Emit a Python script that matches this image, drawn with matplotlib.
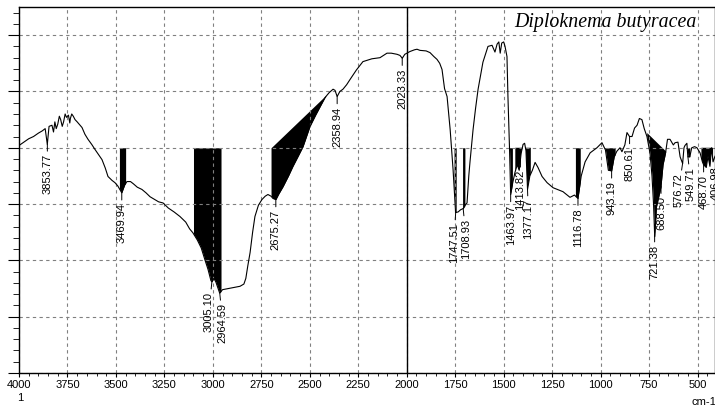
import numpy as np
import matplotlib.pyplot as plt
from matplotlib.ticker import MultipleLocator

# spectrum (wavenumber in cm-1, transmittance in arbitrary units)
wavenumber = [4000, 3975, 3950, 3925, 3900, 3880, 3865, 3854, 3845, 3830, 3822, 3815,
              3808, 3800, 3792, 3785, 3777, 3770, 3762, 3755, 3745, 3738, 3735, 3728,
              3720, 3711, 3700, 3690, 3675, 3660, 3644, 3625, 3608, 3590, 3572, 3555,
              3541, 3520, 3505, 3490, 3470, 3455, 3443, 3425, 3410, 3390, 3366, 3345,
              3324, 3300, 3280, 3257, 3230, 3200, 3170, 3140, 3120, 3103, 3080, 3060,
              3041, 3025, 3010, 3005, 2995, 2985, 2975, 2965, 2950, 2920, 2890, 2860,
              2840, 2830, 2820, 2808, 2795, 2783, 2765, 2747, 2730, 2716, 2700, 2690,
              2675, 2660, 2638, 2610, 2587, 2560, 2535, 2499, 2470, 2447, 2422, 2400,
              2380, 2370, 2359, 2345, 2329, 2310, 2293, 2260, 2226, 2180, 2138, 2120,
              2102, 2080, 2050, 2035, 2023, 2010, 1983, 1960, 1947, 1932, 1900, 1880,
              1860, 1844, 1830, 1818, 1805, 1792, 1776, 1761, 1748, 1735, 1722, 1709,
              1695, 1689, 1680, 1674, 1658, 1645, 1632, 1607, 1581, 1560, 1545, 1534,
              1525, 1518, 1510, 1500, 1493, 1483, 1478, 1470, 1464, 1455, 1442, 1430,
              1420, 1410, 1400, 1392, 1385, 1377, 1365, 1352, 1338, 1323, 1302, 1276,
              1245, 1194, 1158, 1135, 1117, 1100, 1080, 1054, 1019, 993, 975, 960,
              943, 930, 916, 900, 890, 875, 864, 851, 838, 825, 812, 800, 787, 775,
              761, 745, 735, 727, 721, 712, 700, 689, 678, 665, 655, 642, 625, 616,
              601, 590, 577, 570, 565, 555, 550, 540, 530, 515, 503, 487, 475, 469,
              455, 446, 436, 428, 420, 410]
transmittance = [40.4, 41.0, 41.6, 42.0, 42.6, 43.0, 43.4, 40.6, 43.8, 44.0, 42.8, 44.6,
                 43.4, 44.2, 45.6, 45.0, 43.8, 44.6, 46.0, 45.4, 45.8, 44.4, 45.2, 46.0,
                 45.6, 45.0, 44.6, 44.2, 43.6, 42.4, 41.5, 40.6, 39.7, 38.8, 37.9, 36.4,
                 34.9, 34.2, 33.8, 33.2, 32.0, 33.4, 34.0, 34.0, 33.6, 33.0, 32.6, 32.0,
                 31.3, 30.8, 30.4, 30.2, 29.3, 28.6, 27.8, 26.8, 25.6, 24.9, 23.6, 22.2,
                 20.1, 18.4, 16.4, 16.2, 16.8, 16.2, 15.2, 14.2, 14.8, 15.0, 15.2, 15.4,
                 15.8, 16.8, 19.0, 21.4, 25.0, 27.8, 29.8, 30.8, 31.4, 31.7, 31.4, 31.0,
                 30.8, 31.8, 33.1, 35.0, 36.7, 38.5, 40.2, 43.8, 45.8, 47.3, 48.9, 49.8,
                 50.4, 50.2, 49.1, 50.0, 50.4, 51.2, 52.1, 53.8, 55.3, 55.8, 56.0, 56.4,
                 56.8, 56.8, 56.6, 56.4, 55.9, 56.6, 57.1, 57.4, 57.5, 57.3, 57.2, 56.9,
                 56.2, 55.7, 55.0, 53.9, 50.5, 49.1, 43.2, 36.1, 28.5, 28.6, 29.0, 29.2,
                 30.0, 30.2, 35.0, 37.4, 43.2, 47.0, 50.4, 55.2, 58.0, 58.2, 57.0, 58.4,
                 58.8, 56.8, 58.6, 58.8, 58.0, 56.2, 49.1, 40.0, 31.7, 33.5, 35.6, 37.0,
                 36.0, 39.0, 40.6, 40.8, 39.5, 32.6, 35.0, 36.0, 37.4, 36.5, 34.9, 33.8,
                 32.9, 32.2, 31.2, 31.6, 31.0, 35.0, 37.5, 39.1, 40.0, 40.9, 39.6, 36.0,
                 35.9, 38.4, 39.4, 40.0, 39.3, 40.5, 42.7, 42.0, 42.0, 43.5, 44.0, 45.2,
                 45.0, 43.4, 42.0, 39.0, 35.0, 30.0, 24.2, 29.5, 31.3, 33.0, 37.0, 39.1,
                 41.5, 41.5, 40.5, 40.9, 41.0, 38.4, 37.2, 40.0, 40.4, 40.8, 38.4, 38.4,
                 40.0, 40.2, 40.0, 39.1, 37.5, 37.0, 36.5, 38.5, 36.7, 40.0, 37.5, 38.5]

peak_positions = [3853.77, 3469.94, 3005.10, 2964.59, 2675.27, 2358.94, 2023.33,
                  1747.51, 1708.93, 1463.97, 1413.82, 1377.17, 1116.78, 943.19,
                  850.61, 721.38, 688.50, 576.72, 549.71, 468.70, 406.98]
# sideways nudge of crowded labels, in pixels
label_dx = [0, 0, -3, 3, 0, 0, 0,
            -2, 3, 0, 0, 1, 0, 0,
            0, 0, 0, -4, 3, 0, 0]

# shaded peak areas: (start, baseline at start, end, baseline at end)
shaded = [(3482, 40, 3450, 40), (3100, 40, 2958, 40), (2700, 40, 2418, 49.3),
          (1756, 40, 1745, 40), (1712, 40, 1700, 40), (1470, 40, 1455, 40),
          (1440, 40, 1360, 40), (1130, 40, 1105, 40), (995, 40, 925, 40),
          (762, 42.7, 655, 39.1), (560, 40, 540, 40), (480, 40, 420, 40)]

wn = np.array(wavenumber, dtype=float)
tr = np.array(transmittance)
wn_up, tr_up = wn[::-1], tr[::-1]

fig = plt.figure(figsize=(7.15, 4.12), dpi=100)
ax = fig.add_axes([19 / 715, 39 / 412, 696 / 715, 366 / 412])

ax.plot(wn, tr, color='black', lw=0.8)

for a, ba, b, bb in shaded:
    inner = wn[(wn < a) & (wn > b)]
    xs = np.concatenate([[a], inner, [b]])
    ys = np.interp(xs, wn_up, tr_up)
    base = np.interp(xs, [b, a], [bb, ba])
    ax.fill_between(xs, ys, base, where=ys < base, interpolate=True,
                    color='black', lw=0)

for p, dx in zip(peak_positions, label_dx):
    yc = np.interp(p, wn_up, tr_up)
    ax.annotate('%.2f' % p, xy=(p, yc), xytext=(dx, -10), textcoords='offset pixels',
                rotation=90, ha='center', va='top', fontsize=8,
                family='Liberation Sans', annotation_clip=False,
                arrowprops=dict(arrowstyle='-', lw=0.7, color='black',
                                shrinkA=0, shrinkB=0))

ax.axvline(2000, color='black', lw=1)

ax.set_xlim(4000, 410)
ax.set_ylim(0, 65)
ax.set_xticks(np.arange(4000, 499, -250))
ax.xaxis.set_minor_locator(MultipleLocator(50))
ax.yaxis.set_major_locator(MultipleLocator(10))
ax.yaxis.set_minor_locator(MultipleLocator(2))
ax.set_yticklabels([])
ax.grid(True, which='major', color='#808080', ls=(0, (3, 3)), lw=0.8)
ax.tick_params(axis='x', which='major', direction='out', length=3, labelsize=8, pad=2)
ax.tick_params(axis='x', which='minor', direction='out', length=2)
ax.tick_params(axis='y', which='major', direction='out', length=8)
ax.tick_params(axis='y', which='minor', direction='out', length=4)
for lab in ax.get_xticklabels():
    lab.set_family('Liberation Sans')
for s in ax.spines.values():
    s.set_linewidth(1)

ax.text(0.974, 0.959, 'Diploknema butyracea', transform=ax.transAxes, ha='right',
        va='center', fontsize=14.3, style='italic', family='Liberation Serif')

fig.text(20 / 715, 1 - 398 / 412, '1', ha='center', va='center', fontsize=8,
         family='Liberation Sans')
fig.text(692 / 715, 1 - 402 / 412, 'cm-1', ha='left', va='center', fontsize=8,
         family='Liberation Sans')

fig.savefig('out.png', dpi=100)
